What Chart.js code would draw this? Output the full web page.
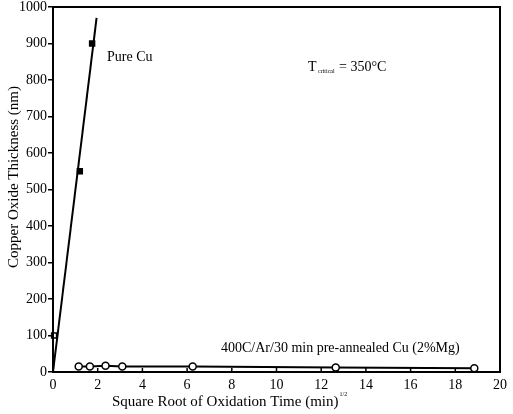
<!DOCTYPE html>
<html>
<head>
<meta charset="utf-8">
<script src="https://cdn.jsdelivr.net/npm/chart.js@4/dist/chart.umd.min.js"></script>
<style>
  html, body { margin: 0; padding: 0; background: #fff; }
  #wrap { width: 513px; height: 414px; position: relative; }
</style>
</head>
<body>
<div id="wrap"><canvas id="c" width="513" height="414"></canvas></div>
<script>
// data
const cuX = [0.05, 1.2, 1.75];
const cuY = [100, 550, 900];
const fitX = [0, 1.95];
const fitY = [0, 970];
const mgX = [1.15, 1.65, 2.35, 3.1, 6.25, 12.65, 18.85];
const mgY = [15, 15, 17, 15, 15, 12, 10];
const xTicks = [0, 2, 4, 6, 8, 10, 12, 14, 16, 18, 20];
const yTicks = [0, 100, 200, 300, 400, 500, 600, 700, 800, 900, 1000];

const SERIF = '"Liberation Serif", "DejaVu Serif", serif';
const pts = (xs, ys) => xs.map((x, i) => ({ x, y: ys[i] }));

// box, inward x ticks, titles and notes
const extras = {
  id: 'extras',
  afterDraw(chart){
    const { ctx, chartArea: a, scales } = chart;
    ctx.save();
    ctx.strokeStyle = '#000';
    ctx.lineWidth = 2;
    ctx.strokeRect(a.left, a.top, a.right - a.left, a.bottom - a.top);
    ctx.lineWidth = 1.5;
    xTicks.forEach(v => {
      const px = scales.x.getPixelForValue(v);
      ctx.beginPath(); ctx.moveTo(px, a.bottom); ctx.lineTo(px, a.bottom - 4); ctx.stroke();
    });
    ctx.fillStyle = '#000';
    ctx.textBaseline = 'middle';
    ctx.textAlign = 'left';
    ctx.font = '14px ' + SERIF;
    ctx.fillText('Pure Cu', 107, 57);
    ctx.fillText('400C/Ar/30 min pre-annealed Cu (2%Mg)', 221, 348);
    ctx.fillText('T', 308, 67);
    ctx.font = '6px ' + SERIF;
    ctx.fillText('critical', 318, 71);
    ctx.font = '14px ' + SERIF;
    ctx.fillText('= 350°C', 339, 67);
    // x title
    ctx.font = '15px ' + SERIF;
    const xt = 'Square Root of Oxidation Time (min)';
    ctx.fillText(xt, 112, 402);
    const w = ctx.measureText(xt).width;
    ctx.font = '6px ' + SERIF;
    ctx.fillText('1/2', 112 + w + 1, 394);
    // y title
    ctx.font = '15px ' + SERIF;
    ctx.translate(14, 177);
    ctx.rotate(-Math.PI / 2);
    ctx.textAlign = 'center';
    ctx.fillText('Copper Oxide Thickness (nm)', 0, 0);
    ctx.restore();
  }
};

new Chart(document.getElementById('c'), {
  type: 'scatter',
  data: {
    datasets: [
      {
        label: 'fit',
        data: pts(fitX, fitY),
        showLine: true,
        borderColor: '#000',
        borderWidth: 2,
        pointRadius: 0
      },
      {
        label: 'Pure Cu',
        data: pts(cuX, cuY),
        pointStyle: 'rect',
        pointRadius: 3.5,
        pointBackgroundColor: ['#fff', '#000', '#000'],
        pointBorderColor: '#000',
        pointBorderWidth: 1.5
      },
      {
        label: '2%Mg',
        data: pts(mgX, mgY),
        showLine: true,
        borderColor: '#000',
        borderWidth: 2,
        pointStyle: 'circle',
        pointRadius: 3.5,
        pointBackgroundColor: '#fff',
        pointBorderColor: '#000',
        pointBorderWidth: 1.5
      }
    ]
  },
  options: {
    responsive: false,
    animation: false,
    events: [],
    clip: false,
    layout: { padding: { top: 7, right: 13, left: 0, bottom: 0 } },
    plugins: { legend: { display: false }, tooltip: { enabled: false } },
    scales: {
      x: {
        type: 'linear', min: 0, max: 20,
        afterFit: s => { s.height = 42; s.paddingLeft = 0; s.paddingRight = 0; },
        afterBuildTicks: s => { s.ticks = xTicks.map(v => ({ value: v })); },
        grid: { display: true, drawOnChartArea: false, drawTicks: false },
        border: { color: '#000', width: 2 },
        ticks: { color: '#000', padding: 5, maxRotation: 0, font: { family: SERIF, size: 14 },
                 callback: v => String(v) }
      },
      y: {
        type: 'linear', min: 0, max: 1000,
        afterFit: s => { s.width = 53; s.paddingTop = 0; s.paddingBottom = 0; },
        afterBuildTicks: s => { s.ticks = yTicks.map(v => ({ value: v })); },
        grid: { display: true, drawOnChartArea: false, drawTicks: true, tickLength: 5, color: '#000', lineWidth: 1.5 },
        border: { color: '#000', width: 2 },
        ticks: { color: '#000', padding: 1, font: { family: SERIF, size: 14 },
                 callback: v => String(v) }
      }
    }
  },
  plugins: [extras]
});
</script>
</body>
</html>
